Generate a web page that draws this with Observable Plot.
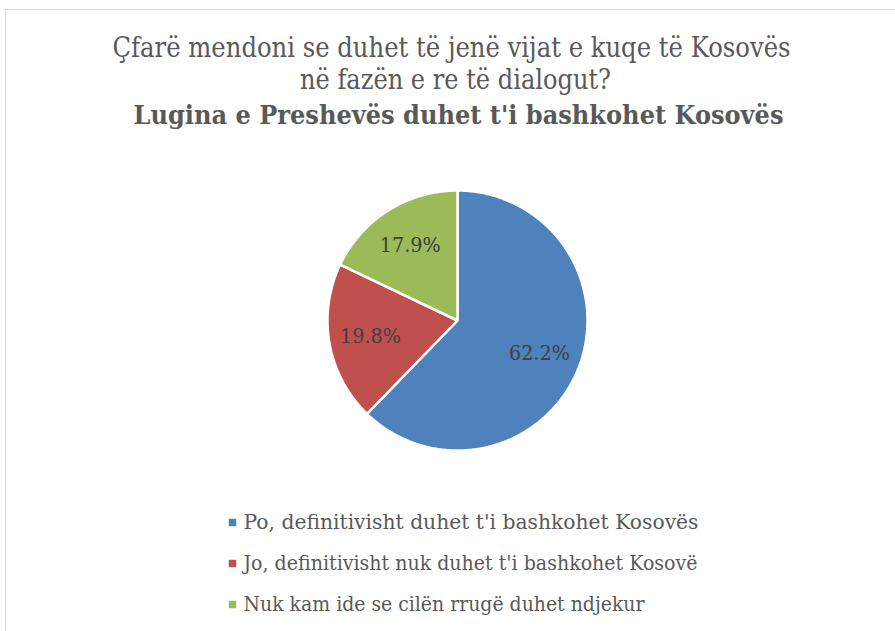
<!DOCTYPE html>
<html>
<head>
<meta charset="utf-8">
<script src="https://cdn.jsdelivr.net/npm/d3@7"></script>
<script src="https://cdn.jsdelivr.net/npm/@observablehq/plot@0.6"></script>
<style>
  html, body { margin: 0; padding: 0; background: #fff; }
  #chart { position: relative; width: 895px; height: 631px; overflow: hidden; }
  #frame { position: absolute; left: 5px; top: 9px; width: 900px; height: 640px; border: 1.5px solid #d9d9d9; box-sizing: border-box; }
</style>
</head>
<body>
<div id="chart"><div id="frame"></div></div>
<script>
// ---- data ----
const categories = [
  "Po, definitivisht duhet t'i bashkohet Kosovës",
  "Jo, definitivisht nuk duhet t'i bashkohet Kosovë",
  "Nuk kam ide se cilën rrugë duhet ndjekur"
];
const values = [62.2, 19.8, 17.9];
const colors = ["#4F81BD", "#C0504D", "#9BBB59"];
const titleLines = [
  "Çfarë mendoni se duhet të jenë vijat e kuqe të Kosovës",
  "në fazën e re të dialogut?"
];
const subtitle = "Lugina e Preshevës duhet t'i bashkohet Kosovës";

// ---- layout ----
const W = 895, H = 631;
const cx = 457, cy = 320, R = 130;
const font = "'DejaVu Serif', 'Liberation Serif', serif";

const pie = d3.pie().sort(null).value(d => d.value);
const arcs = pie(categories.map((c, i) => ({category: c, value: values[i], color: colors[i]})));

// slice polygons
const slicePts = [];
arcs.forEach((a, i) => {
  const n = Math.max(4, Math.ceil((a.endAngle - a.startAngle) / 0.01));
  slicePts.push({slice: i, x: cx, y: cy, color: a.data.color});
  for (let k = 0; k <= n; k++) {
    const t = a.startAngle + (a.endAngle - a.startAngle) * k / n;
    slicePts.push({slice: i, x: cx + R * Math.sin(t), y: cy - R * Math.cos(t), color: a.data.color});
  }
});

const labelR = R * 0.68;
const labels = arcs.map(a => {
  const m = (a.startAngle + a.endAngle) / 2;
  return {x: cx + labelR * Math.sin(m), y: cy - labelR * Math.cos(m), text: a.data.value.toFixed(1) + "%"};
});

const legendY0 = 522, legendDy = 41, legendX = 232;
const legend = categories.map((c, i) => ({x: legendX, y: legendY0 + i * legendDy, text: c, color: colors[i]}));

const titles = [
  {x: 451, y: 47, text: titleLines[0], weight: "normal"},
  {x: 455, y: 79, text: titleLines[1], weight: "normal"},
  {x: 458, y: 115, text: subtitle, weight: "bold"}
];

// rendered widths of the texts (layout), applied via textLength
const textWidths = new Map([
  [titleLines[0], 678], [titleLines[1], 311], [subtitle, 650],
  [categories[0], 455], [categories[1], 454], [categories[2], 401],
  ["62.2%", 61], ["19.8%", 61], ["17.9%", 61]
]);

const chart = Plot.plot({
  width: W, height: H,
  margin: 0,
  x: {domain: [0, W], range: [0, W], axis: null},
  y: {domain: [0, H], range: [0, H], axis: null},
  style: {background: "transparent", fontFamily: font},
  marks: [
    Plot.line(slicePts, {x: "x", y: "y", z: "slice", fill: "color", stroke: "white", strokeWidth: 2.5, curve: "linear-closed", strokeLinejoin: "miter"}),
    Plot.text(labels, {x: "x", y: "y", text: "text", fontSize: 20.5, fill: "#404040", fontFamily: font}),
    Plot.dot(legend, {x: "x", y: "y", symbol: "square", r: 4.2, fill: "color", stroke: null}),
    Plot.text(legend, {x: d => d.x + 11, y: "y", text: "text", textAnchor: "start", fontSize: 21, fill: "#595959", fontFamily: font}),
    Plot.text(titles.filter(d => d.weight === "normal"), {x: "x", y: "y", text: "text", fontSize: 28.5, fill: "#595959", fontFamily: font}),
    Plot.text(titles.filter(d => d.weight === "bold"), {x: "x", y: "y", text: "text", fontSize: 26, fontWeight: "bold", fill: "#595959", fontFamily: font})
  ]
});
chart.querySelectorAll("text").forEach(t => {
  const w = textWidths.get(t.textContent);
  if (w) { t.setAttribute("textLength", w); t.setAttribute("lengthAdjust", "spacingAndGlyphs"); }
});
chart.style.position = "absolute";
chart.style.left = "0px";
chart.style.top = "0px";
document.getElementById("chart").appendChild(chart);
</script>
</body>
</html>
